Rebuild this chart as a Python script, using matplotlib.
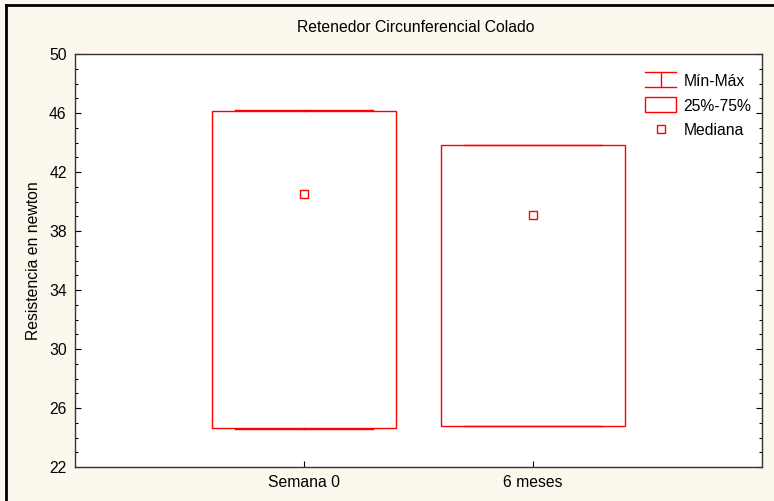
import numpy as np
import matplotlib
matplotlib.use("Agg")
import matplotlib.pyplot as plt
from matplotlib.lines import Line2D
from matplotlib.patches import Rectangle
from matplotlib.legend_handler import HandlerBase
from matplotlib.ticker import MultipleLocator

plt.rcParams['font.family'] = ['Liberation Sans', 'DejaVu Sans']

# data
categories = ["Semana 0", "6 meses"]
q_low = [24.65, 24.8]      # 25%
q_high = [46.15, 43.8]     # 75%
v_min = [24.6, 24.75]
v_max = [46.2, 43.85]
medians = [40.5, 39.1]
y_ticks = [22, 26, 30, 34, 38, 42, 46, 50]

RED = "#ff0000"
BG = "#fdf8ed"
FS = 11.3


class HandlerMinMax(HandlerBase):
    def create_artists(self, legend, orig_handle, x0, y0, width, height, fontsize, trans):
        y1, y2 = y0 - 1, y0 + height + 1
        xm = x0 + width / 2
        lines = [
            Line2D([x0, x0 + width], [y1, y1]),
            Line2D([x0, x0 + width], [y2, y2]),
            Line2D([xm, xm], [y1, y2]),
        ]
        for ln in lines:
            ln.set_color(RED)
            ln.set_linewidth(1)
            ln.set_transform(trans)
        return lines


class HandlerBox(HandlerBase):
    def create_artists(self, legend, orig_handle, x0, y0, width, height, fontsize, trans):
        r = Rectangle((x0, y0 - 1), width, height + 2, facecolor="white",
                      edgecolor=RED, linewidth=1, transform=trans)
        return [r]


fig = plt.figure(figsize=(7.74, 5.01), dpi=100, facecolor=BG)
ax = fig.add_axes([75 / 774, 1 - 467 / 501, 687 / 774, 413 / 501])
ax.set_facecolor("white")

pos = np.arange(1, len(categories) + 1)
box_w = 0.8
cap_w = 0.6
for x, lo, hi, mn, mx, md in zip(pos, q_low, q_high, v_min, v_max, medians):
    ax.add_patch(Rectangle((x - box_w / 2, lo), box_w, hi - lo, facecolor="none",
                           edgecolor=RED, linewidth=1, zorder=3))
    ax.plot([x - cap_w / 2, x + cap_w / 2], [mn, mn], color=RED, lw=1, zorder=3)
    ax.plot([x - cap_w / 2, x + cap_w / 2], [mx, mx], color=RED, lw=1, zorder=3)
    ax.plot([x, x], [mn, lo], color=RED, lw=1, zorder=3)
    ax.plot([x, x], [hi, mx], color=RED, lw=1, zorder=3)
    ax.plot(x, md, marker="s", ms=5.5, mfc="white", mec=RED, mew=1, ls="none", zorder=4)

ax.set_xlim(0, 3)
ax.set_ylim(22, 50)
ax.set_xticks(pos)
ax.set_xticklabels(categories)
ax.set_yticks(y_ticks)
ax.yaxis.set_minor_locator(MultipleLocator(1))
ax.tick_params(axis="both", which="both", direction="in", labelsize=FS,
               colors="black", right=True, top=False)
ax.tick_params(axis="both", which="major", length=4, width=0.8, pad=6)
ax.tick_params(axis="y", which="minor", length=2.5, width=0.8)
for sp in ax.spines.values():
    sp.set_linewidth(1)
    sp.set_color("#333333")

ax.set_ylabel("Resistencia en newton", fontsize=FS, labelpad=6)
fig.text(416 / 774, 1 - 27 / 501, "Retenedor Circunferencial Colado",
         ha="center", va="center", fontsize=FS)

h_mm = Line2D([], [])
h_box = Rectangle((0, 0), 1, 1)
h_med = Line2D([], [], marker="s", ms=5.5, mfc="white", mec=RED, mew=1, ls="none")
ax.legend([h_mm, h_box, h_med], ["Mín-Máx", "25%-75%", "Mediana"],
          handler_map={h_mm: HandlerMinMax(), h_box: HandlerBox()},
          loc="upper right", bbox_to_anchor=(1.005, 0.985), frameon=False,
          fontsize=FS, handlelength=2.0, handleheight=0.8, labelspacing=0.6,
          handletextpad=0.45)

# figure frame (top and left edges visible)
fig.add_artist(Line2D([6 / 774, 1], [1 - 5 / 501, 1 - 5 / 501],
                      transform=fig.transFigure, color="black", lw=2))
fig.add_artist(Line2D([6 / 774, 6 / 774], [0, 1 - 5 / 501],
                      transform=fig.transFigure, color="black", lw=2))

fig.savefig("out.png", dpi=100, facecolor=BG)
